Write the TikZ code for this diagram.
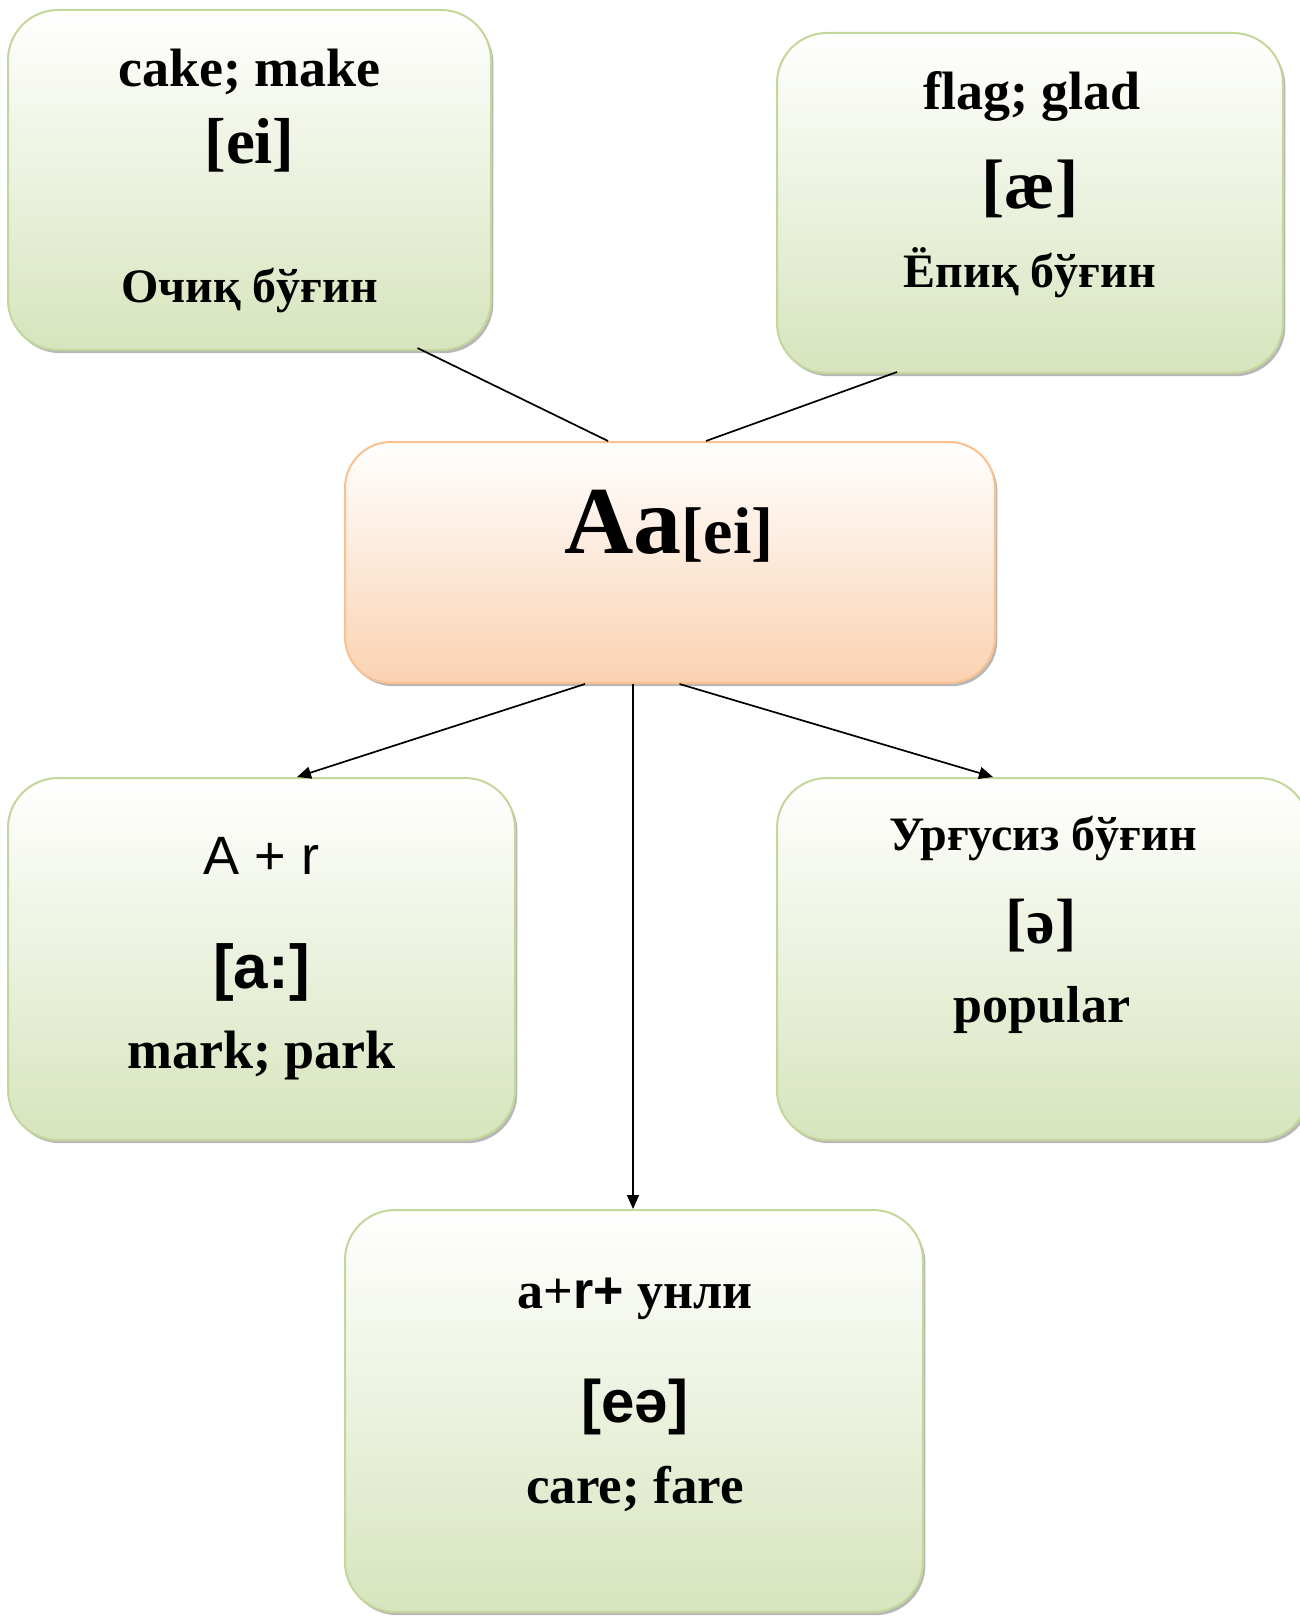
\documentclass[tikz,border=0pt]{standalone}
\usepackage{fontspec}
\setmainfont{Liberation Serif}
\newfontfamily\arial{Liberation Sans}
\usetikzlibrary{arrows.meta,shadows,calc}
\definecolor{gfill}{RGB}{215,228,189}
\definecolor{gline}{RGB}{195,214,155}
\definecolor{ofill}{RGB}{250,210,178}
\definecolor{oline}{RGB}{250,192,143}
\tikzset{
  boxshadow/.style={drop shadow={shadow xshift=1.2pt, shadow yshift=-1.6pt, fill=black!40, opacity=0.7}},
  gbox/.style={rectangle, rounded corners=25pt, draw=gline, line width=1pt,
     top color=white, bottom color=gfill, boxshadow, inner sep=0pt},
  obox/.style={rectangle, rounded corners=23pt, draw=oline, line width=1pt,
     top color=white, bottom color=ofill, boxshadow, inner sep=0pt},
  txt/.style={anchor=base, inner sep=0pt, font=\bfseries},
  conn/.style={line width=0.85pt, black},
  arr/.style={conn, -{Triangle[length=7pt,width=6pt]}}
}
\begin{document}
\begin{tikzpicture}[x=0.5pt,y=-0.5pt]
\useasboundingbox (0,0) rectangle (1300,1616);
% boxes
\node[gbox, minimum width=241.5pt, minimum height=170pt] (tl) at (249.5,180) {};
\node[gbox, minimum width=253pt, minimum height=170pt] (tr) at (1030,203) {};
\node[obox, minimum width=325pt, minimum height=120.5pt] (ctr) at (670,562.5) {};
\node[gbox, minimum width=253.5pt, minimum height=181pt] (ml) at (261.5,959) {};
\node[gbox, minimum width=266pt, minimum height=181pt] (mr) at (1043,959) {};
\node[gbox, minimum width=289pt, minimum height=201pt] (bot) at (634,1411) {};
% texts
\node[txt, font=\bfseries\fontsize{27}{30}\selectfont] (tl1) at (249.5,87) {cake; make};
\node[txt, font=\bfseries\fontsize{32.5}{36}\selectfont] (tl2) at (249.5,163) {[ei]};
\node[txt, font=\bfseries\fontsize{24}{28}\selectfont] (tl3) at (249.5,302) {Очиқ бўғин};

\node[txt, font=\bfseries\fontsize{27}{30}\selectfont] (tr1) at (1032,110) {flag; glad};
\node[txt, font=\bfseries\fontsize{35}{38}\selectfont] (tr2) at (1030,208) {[æ]};
\node[txt, font=\bfseries\fontsize{24}{28}\selectfont] (tr3) at (1030,287) {Ёпиқ бўғин};

\node[txt] (c1) at (669,553) {\fontsize{48}{52}\selectfont Aa\fontsize{33}{36}\selectfont[ei]};

\node[txt, font=\arial\fontsize{27}{30}\selectfont] (ml1) at (261.5,874) {A + r};
\node[txt, font=\arial\bfseries\fontsize{31}{34}\selectfont] (ml2) at (261.5,988) {[a:]};
\node[txt, font=\bfseries\fontsize{27}{30}\selectfont] (ml3) at (261.5,1068) {mark; park};

\node[txt, font=\bfseries\fontsize{24}{27}\selectfont] (mr1) at (1043,850) {Урғусиз бўғин};
\node[txt, font=\bfseries\fontsize{32}{35}\selectfont] (mr2) at (1041,943) {[ə]};
\node[txt, font=\bfseries\fontsize{26}{29}\selectfont] (mr3) at (1042,1022) {popular};

\node[txt, font=\bfseries\fontsize{26}{29}\selectfont] (b1) at (635,1308) {a+{\arial r+} унли};
\node[txt, font=\arial\bfseries\fontsize{30}{34}\selectfont] (b2) at (635,1422) {[eə]};
\node[txt, font=\bfseries\fontsize{26.5}{29}\selectfont] (b3) at (635,1503) {care; fare};
% connectors
\draw[conn] ([xshift=84pt,yshift=1.5pt]tl.south) -- ([xshift=-31pt]ctr.north);
\draw[conn] ([xshift=-66.5pt,yshift=1pt]tr.south) -- ([xshift=18pt]ctr.north);
\draw[arr] ([xshift=-42.5pt]ctr.south) -- ([xshift=17.75pt]ml.north);
\draw[arr] ([xshift=-18.5pt]ctr.south) -- ([xshift=-18.5pt]ctr.south |- bot.north);
\draw[arr] ([xshift=4.75pt]ctr.south) -- ([xshift=-25pt]mr.north);
\end{tikzpicture}
\end{document}
